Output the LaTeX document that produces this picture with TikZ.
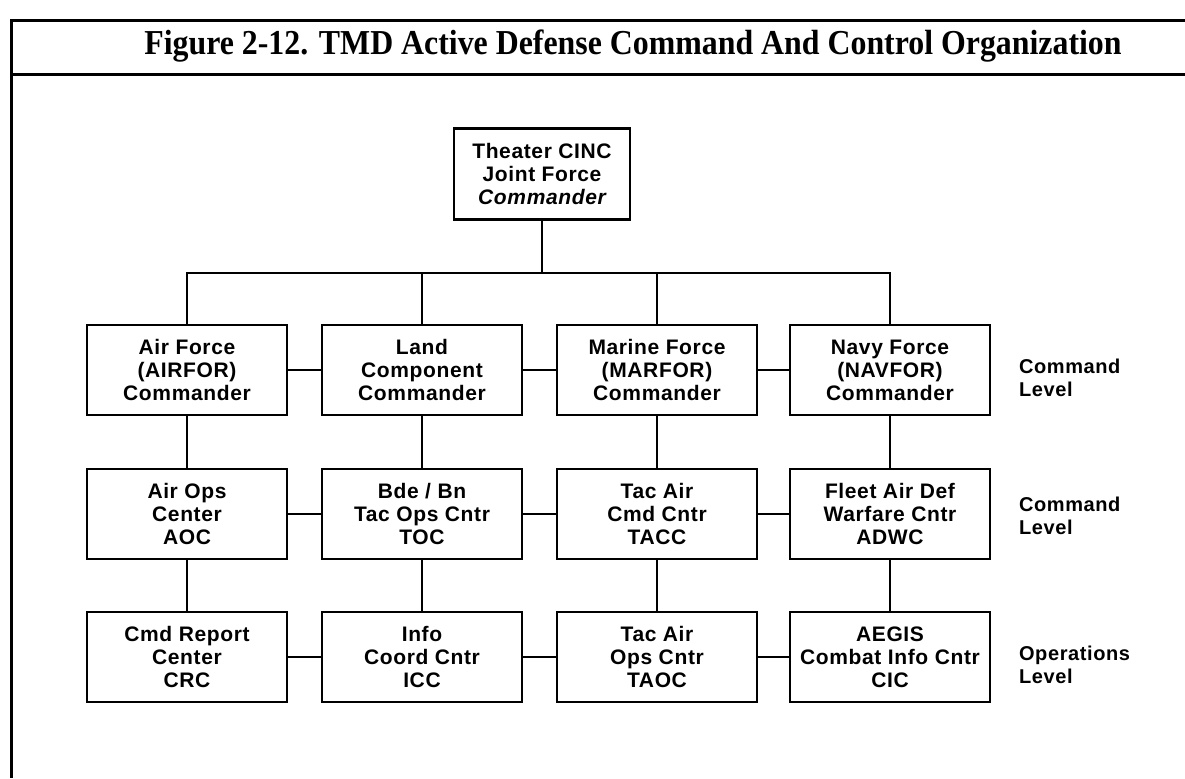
\documentclass[tikz,border=0pt]{standalone}
\usepackage{fontspec}
\setmainfont{Liberation Serif}
\newfontfamily\unitfont[LetterSpace=3]{Liberation Sans}
\begin{document}
\begin{tikzpicture}[x=0.5pt,y=-0.5pt,
  unit/.style={draw,line width=1.4pt,minimum width=100pt,minimum height=45pt,inner sep=0pt,align=center,
    font=\unitfont\bfseries\fontsize{10.5}{11.5}\selectfont},
  link/.style={line width=1pt},
  lvl/.style={anchor=west,align=left,font=\unitfont\bfseries\fontsize{10}{11.5}\selectfont},
  rule/.style={line width=1.5pt}]
  \useasboundingbox (0,0) rectangle (1185,778);
  % page frame and title bar
  \draw[rule] (1185,20) -- (11,20) -- (11,778);
  \draw[rule] (11,74) -- (1185,74);
  \node (title) at (633,46) {\bfseries\fontsize{17.5}{20}\selectfont\scalebox{0.91}[1]{Figure 2-12. TMD Active Defense Command And Control Organization}};
  % top of the chain
  \node[unit,minimum width=88pt,minimum height=45.5pt] (cinc) at (542,174) {Theater CINC\\Joint Force\\\itshape Commander};
  \coordinate (bus) at (542,273);
  % command level
  \node[unit] (airfor) at (187,370) {Air Force\\(AIRFOR)\\Commander};
  \node[unit] (landcc) at (422,370) {Land\\Component\\Commander};
  \node[unit] (marfor) at (657,370) {Marine Force\\(MARFOR)\\Commander};
  \node[unit] (navfor) at (890,370) {Navy Force\\(NAVFOR)\\Commander};
  % command level, centres
  \node[unit] (aoc) at (187,514) {Air Ops\\Center\\AOC};
  \node[unit] (toc) at (422,514) {Bde / Bn\\Tac Ops Cntr\\TOC};
  \node[unit] (tacc) at (657,514) {Tac Air\\Cmd Cntr\\TACC};
  \node[unit] (adwc) at (890,514) {Fleet Air Def\\Warfare Cntr\\ADWC};
  % operations level
  \node[unit] (crc) at (187,657) {Cmd Report\\Center\\CRC};
  \node[unit] (icc) at (422,657) {Info\\Coord Cntr\\ICC};
  \node[unit] (taoc) at (657,657) {Tac Air\\Ops Cntr\\TAOC};
  \node[unit] (cic) at (890,657) {AEGIS\\Combat Info Cntr\\CIC};
  % level names
  \node[lvl] (lvlone) at (1012,378) {Command\\Level};
  \node[lvl] (lvltwo) at (1012,516) {Command\\Level};
  \node[lvl] (lvlops) at (1012,665) {Operations\\Level};
  % bus from the CINC
  \draw[link] (cinc) -- (bus);
  \draw[link] (airfor) |- (bus) -| (navfor);
  \foreach \n in {landcc,marfor}
    \draw[link] (\n) -- (\n |- bus);
  % down the columns and along the rows
  \foreach \a/\b in {airfor/aoc,landcc/toc,marfor/tacc,navfor/adwc,aoc/crc,toc/icc,tacc/taoc,adwc/cic}
    \draw[link] (\a) -- (\b);
  \foreach \a/\b in {airfor/landcc,landcc/marfor,marfor/navfor,aoc/toc,toc/tacc,tacc/adwc,crc/icc,icc/taoc,taoc/cic}
    \draw[link] (\a) -- (\b);
\end{tikzpicture}
\end{document}
